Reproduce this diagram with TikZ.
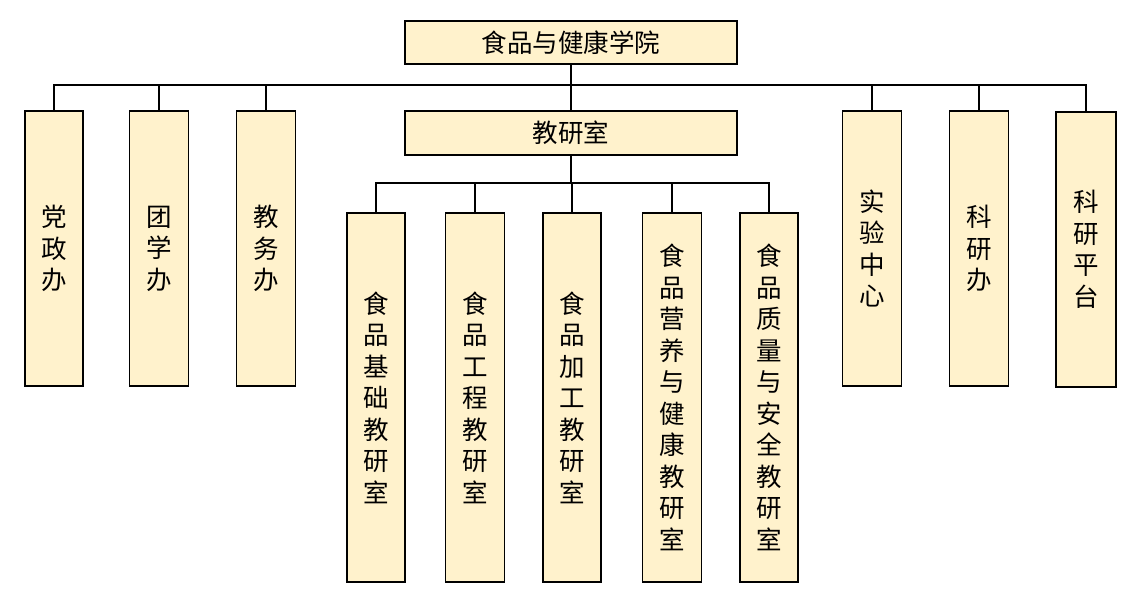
\documentclass[tikz,border=0pt]{standalone}
\usepackage{fontspec}
\newfontfamily\cjk{Noto Sans CJK SC}
\definecolor{boxfill}{HTML}{FFF2CC}
\tikzset{
  orgbox/.style={draw=black, line width=1.6pt, fill=boxfill, inner sep=0pt, align=center,
    font=\cjk\fontsize{25.5}{31.5}\selectfont},
  wire/.style={draw=black, line width=1.6pt}
}
\begin{document}
\begin{tikzpicture}[x=1pt,y=-1pt]
\path[fill=white] (0,0) rectangle (1139,599);
\useasboundingbox (0,0) rectangle (1139,599);
\coordinate (bus) at (0,85);
\coordinate (bus2) at (0,183);
% top
\node[orgbox, minimum width=332, minimum height=43] (top) at (571,42.5) {食品与健康学院};
\node[orgbox, minimum width=332, minimum height=44] (jy) at (571,133) {教研室};
% left
\node[orgbox, minimum width=58, minimum height=275] (dz) at (54,248.5) {党\\政\\办};
\node[orgbox, minimum width=59, minimum height=275] (tx) at (159,248.5) {团\\学\\办};
\node[orgbox, minimum width=59, minimum height=275] (jw) at (266,248.5) {教\\务\\办};
% right
\node[orgbox, minimum width=59, minimum height=275] (sy) at (872,248.5) {实\\验\\中\\心};
\node[orgbox, minimum width=59, minimum height=275] (ky) at (979,248.5) {科\\研\\办};
\node[orgbox, minimum width=60, minimum height=275] (pt) at (1086,249.5) {科\\研\\平\\台};
% sub
\node[orgbox, minimum width=58, minimum height=369] (s1) at (376,397.5) {食\\品\\基\\础\\教\\研\\室};
\node[orgbox, minimum width=59, minimum height=369] (s2) at (475,397.5) {食\\品\\工\\程\\教\\研\\室};
\node[orgbox, minimum width=58, minimum height=369] (s3) at (572,397.5) {食\\品\\加\\工\\教\\研\\室};
\node[orgbox, minimum width=59, minimum height=369] (s4) at (672,397.5) {食\\品\\营\\养\\与\\健\\康\\教\\研\\室};
\node[orgbox, minimum width=58, minimum height=369] (s5) at (769,397.5) {食\\品\\质\\量\\与\\安\\全\\教\\研\\室};
% wires
\draw[wire] (top.south) -- (jy.north);
\draw[wire] (dz.north) -- (dz.north |- bus) -- (pt.north |- bus) -- (pt.north);
\foreach \n in {tx,jw,sy,ky} \draw[wire] (\n.north) -- (\n.north |- bus);
\draw[wire] (jy.south) -- (jy.south |- bus2);
\draw[wire] (s1.north) -- (s1.north |- bus2) -- (s5.north |- bus2) -- (s5.north);
\foreach \n in {s2,s3,s4} \draw[wire] (\n.north) -- (\n.north |- bus2);
\end{tikzpicture}
\end{document}
